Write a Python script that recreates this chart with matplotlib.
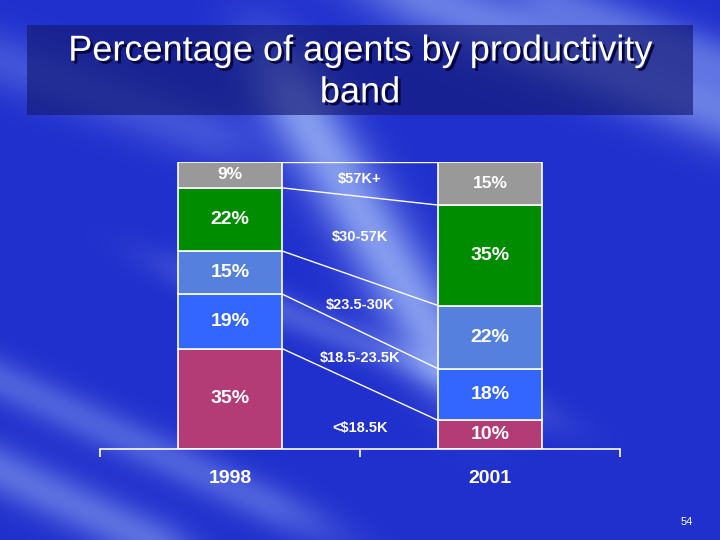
import matplotlib
matplotlib.use("Agg")
import matplotlib.pyplot as plt
import matplotlib.patheffects as pe
import numpy as np

plt.rcParams['font.family'] = ['Liberation Sans', 'DejaVu Sans']

# data
years = ["1998", "2001"]
bands = ["<$18.5K", "$18.5-23.5K", "$23.5-30K", "$30-57K", "$57K+"]
share_1998 = [35, 19, 15, 22, 9]
share_2001 = [10, 18, 22, 35, 15]
band_colors = ["#B33C77", "#3366FF", "#5580DD", "#008C00", "#999999"]

title = "Percentage of agents by productivity\nband"
page_no = "54"

W, H = 720, 540
fig = plt.figure(figsize=(W / 100, H / 100), dpi=100)


# background: blue slide with lighter diagonal streaks (decoration only)
def streak(xx, yy, x0, y0, x1, y1, width, strength):
    d = np.array([x1 - x0, y1 - y0], float)
    L = np.hypot(*d)
    d /= L
    rx, ry = xx - x0, yy - y0
    along = rx * d[0] + ry * d[1]
    perp = -rx * d[1] + ry * d[0]
    t = np.clip(along / L, 0, 1)
    fade = np.exp(-((along - t * L) / (0.3 * L)) ** 2)
    return strength * np.exp(-(perp / width) ** 2) * fade


bg = fig.add_axes([0, 0, 1, 1])
yy, xx = np.mgrid[0:H, 0:W].astype(float)
base = np.array([32, 48, 205]) / 255.0
light = np.array([165, 190, 250]) / 255.0
glow = (streak(xx, yy, 300, 110, 430, 330, 36, 0.75)
        + streak(xx, yy, 430, 0, 720, 110, 35, 0.55)
        + streak(xx, yy, 560, 0, 720, 60, 25, 0.35)
        + streak(xx, yy, 0, 60, 200, 130, 30, 0.25)
        + streak(xx, yy, 0, 380, 260, 500, 22, 0.35)
        + streak(xx, yy, 0, 470, 150, 540, 25, 0.45)
        + streak(xx, yy, 230, 290, 480, 390, 18, 0.3))
glow = np.clip(glow, 0, 1)[..., None]
img = base * (1 - glow) + light * glow
bg.imshow(img, extent=[0, W, H, 0], aspect='auto', interpolation='bilinear')
bg.set_xlim(0, W)
bg.set_ylim(H, 0)
bg.axis('off')

# title box
bg.add_patch(plt.Rectangle((27, 25), 666, 90, facecolor=(0.08, 0.1, 0.45),
                           alpha=0.65, edgecolor='none'))
bg.text(360, 72, title, ha='center', va='center', fontsize=26, color='white',
        linespacing=1.25,
        path_effects=[pe.withSimplePatchShadow(offset=(2, -2), shadow_rgbFace='#000033',
                                               alpha=0.9)])
bg.text(693, 522, page_no, ha='right', va='center', fontsize=8, color='white')

# chart
ax = fig.add_axes([100 / W, (H - 449) / H, 520 / W, 287 / H])
ax.patch.set_alpha(0)
x_pos = [0.5, 1.5]
bar_w = 0.4

for xi, shares in zip(x_pos, [share_1998, share_2001]):
    bottom = 0
    for k, (val, col) in enumerate(zip(shares, band_colors)):
        ax.bar(xi, val, bar_w, bottom=bottom, color=col, edgecolor='white',
               linewidth=1.2, zorder=2)
        fs = 14 if k < 4 else 12.5
        ax.text(xi, bottom + val / 2, f"{val}%", ha='center', va='center',
                color='white', fontsize=fs, fontweight='bold', zorder=3)
        bottom += val

# connector lines between bars
cum_a = np.cumsum(share_1998)
cum_b = np.cumsum(share_2001)
x_a = x_pos[0] + bar_w / 2
x_b = x_pos[1] - bar_w / 2
for ya, yb in zip(cum_a, cum_b):
    ax.plot([x_a, x_b], [ya, yb], color='white', linewidth=1, zorder=1)

# band labels in the gap
mid_line = np.concatenate([[0], (cum_a + cum_b) / 2])
for k, name in enumerate(bands):
    ylab = (mid_line[k] + mid_line[k + 1]) / 2
    if k == 0:
        ylab = mid_line[1] * 0.33
    ax.text(1.0, ylab, name, ha='center', va='center', color='white',
            fontsize=10.5, fontweight='bold')

ax.set_xlim(0, 2)
ax.set_ylim(0, 100)
for s in ['top', 'left', 'right']:
    ax.spines[s].set_visible(False)
ax.spines['bottom'].set_color('white')
ax.spines['bottom'].set_linewidth(1.2)
ax.set_yticks([])
ax.set_xticks([0, 1, 2])
ax.set_xticklabels([])
ax.tick_params(axis='x', which='major', direction='out', length=6, width=1.2,
               color='white')
ax.set_xticks(x_pos, minor=True)
ax.set_xticklabels(years, minor=True)
ax.tick_params(axis='x', which='minor', length=0, pad=15, labelsize=14,
               labelcolor='white')
for t in ax.get_xticklabels(minor=True):
    t.set_fontweight('bold')

fig.savefig("out.png", dpi=100)
